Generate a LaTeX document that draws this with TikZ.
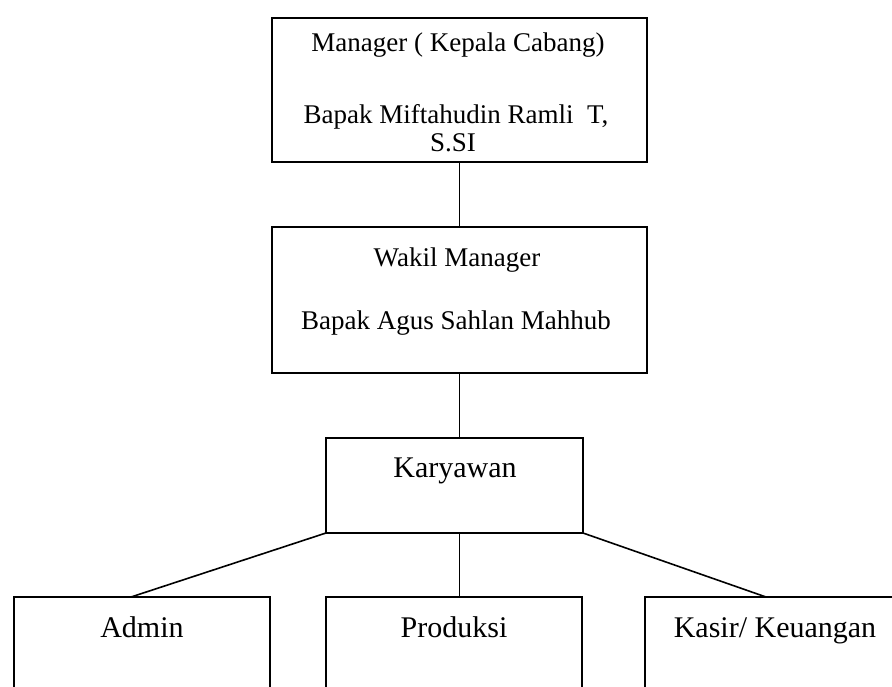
\documentclass[tikz,border=0pt]{standalone}
\usepackage{fontspec}
\setmainfont{Liberation Serif}
\usetikzlibrary{positioning}

\begin{document}
\begin{tikzpicture}[
    x=1pt, y=-1pt,
    every node/.style={inner sep=0pt, outer sep=0pt},
    box/.style={draw, line width=1.8pt, anchor=north west},
    txt/.style={font=\fontsize{27}{32}\selectfont, anchor=base},
    bigtxt/.style={font=\fontsize{30}{36}\selectfont, anchor=base},
    link/.style={line width=1.6pt},
]
\useasboundingbox (0,0) rectangle (892,687);
\clip (0,0) rectangle (892,687);

\node (mgr) at (272,18) [box, minimum width=375pt, minimum height=144pt] {};
\node (wakil) at (272,227) [box, minimum width=375pt, minimum height=146pt] {};
\node (kary) at (326,438) [box, minimum width=257pt, minimum height=95pt] {};

\node (admin) at (14,597) [box, minimum width=256pt, minimum height=130pt] {};
\node (prod) at (326,597) [box, minimum width=256pt, minimum height=130pt] {};
\node (kasir) at (645,597) [box, minimum width=262pt, minimum height=130pt] {};

\node (t1) at (458,52) [txt] {Manager ( Kepala Cabang)};
\node (t2) at (456,124) [txt] {Bapak Miftahudin Ramli\ \ T,};
\node (t3) at (453,152) [txt] {S.SI};
\node (t4) at (457,266) [txt] {Wakil Manager};
\node (t5) at (456,330) [txt] {Bapak Agus Sahlan Mahhub};
\node (t6) at (455,477) [bigtxt] {Karyawan};
\node (t7) at (142,637) [bigtxt] {Admin};
\node (t8) at (454,637) [bigtxt] {Produksi};
\node (t9) at (775,637) [bigtxt] {Kasir/ Keuangan};

\draw[link] (mgr.south) -- (wakil.north);
\draw[link] (wakil.south) -- (kary.north -| wakil.south);
\draw[link] (kary.south -| wakil.south) -- (prod.north -| wakil.south);
\draw[link] (kary.south west) -- ([xshift=-11pt]admin.north);
\draw[link] (kary.south east) -- ([xshift=-10pt]kasir.north);

\end{tikzpicture}
\end{document}
